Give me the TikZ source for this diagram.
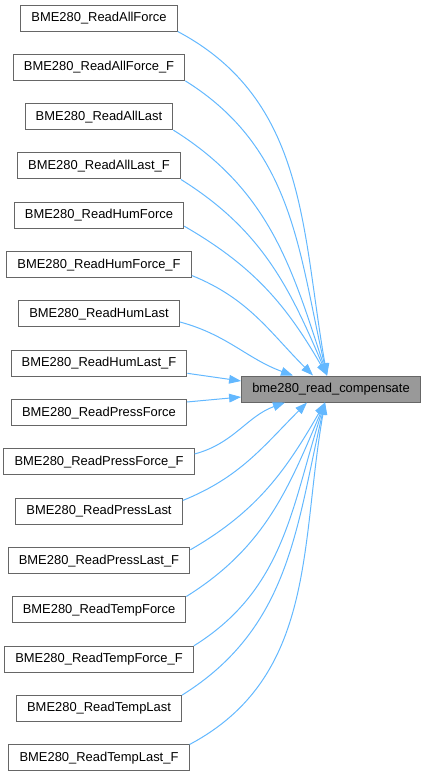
\documentclass[tikz,border=0pt]{standalone}
\usepackage{fontspec}
\setmainfont{Liberation Sans}
\usetikzlibrary{arrows.meta}
\definecolor{edgeblue}{HTML}{63B8FF}
\definecolor{boxgray}{HTML}{666666}
\definecolor{tgtgray}{HTML}{999999}

\begin{document}
\begin{tikzpicture}[x=0.75pt,y=-0.75pt,>={Triangle[length=9pt,width=6.5pt]},
  font=\fontsize{9.7}{11}\selectfont,
  fn/.style={draw=boxgray,line width=0.75pt,fill=white,minimum height=19.5pt,inner xsep=8pt,inner ysep=0pt},
  call/.style={->,draw=edgeblue,line width=0.75pt}]
  \useasboundingbox (0,0) rectangle (425,776);
  \foreach \n [count=\i] in {ReadAllForce,ReadAllForce\_F,ReadAllLast,ReadAllLast\_F,ReadHumForce,ReadHumForce\_F,ReadHumLast,ReadHumLast\_F,ReadPressForce,ReadPressForce\_F,ReadPressLast,ReadPressLast\_F,ReadTempForce,ReadTempForce\_F,ReadTempLast,ReadTempLast\_F}
    \node[fn] (c\i) at (99,{18+(\i-1)*49.33}) {BME280\_\n};
  \node[fn,fill=tgtgray] (rc) at (331,389) {bme280\_read\_compensate};
  % callers above
  \draw[call] (c1.south east) to[out=-28,in=100] ([xshift=-3pt]rc.north);
  \draw[call] (c2.south east) to[out=-32,in=103] ([xshift=-3pt]rc.north);
  \draw[call] (c3.south east) to[out=-32,in=108] ([xshift=-3pt]rc.north);
  \draw[call] (c4.south east) to[out=-32,in=113] ([xshift=-3pt]rc.north);
  \draw[call] ([yshift=2pt]c5.south east) to[out=-30,in=120] ([xshift=-3pt]rc.north);
  \draw[call] ([yshift=2pt]c6.south east) to[out=-22,in=135] ([xshift=-13.5pt]rc.north);
  \draw[call] ([yshift=-6pt]c7.east) to[out=-15,in=160] ([xshift=-28.5pt]rc.north);
  \draw[call] ([yshift=-7.5pt]c8.east) -- ([yshift=6pt]rc.west);
  % callers below
  \draw[call] ([yshift=8pt]c9.east) -- ([yshift=-6pt]rc.west);
  \draw[call] ([yshift=6pt]c10.east) to[out=15,in=-160] ([xshift=-34.5pt]rc.south);
  \draw[call] ([yshift=-2pt]c11.north east) to[out=22,in=-135] ([xshift=-18pt]rc.south);
  \draw[call] ([yshift=-2pt]c12.north east) to[out=30,in=-120] ([xshift=-4.5pt]rc.south);
  \draw[call] (c13.north east) to[out=32,in=-113] ([xshift=-4.5pt]rc.south);
  \draw[call] (c14.north east) to[out=32,in=-108] ([xshift=-4.5pt]rc.south);
  \draw[call] (c15.north east) to[out=32,in=-103] ([xshift=-4.5pt]rc.south);
  \draw[call] (c16.north east) to[out=28,in=-100] ([xshift=-4.5pt]rc.south);
\end{tikzpicture}
\end{document}
